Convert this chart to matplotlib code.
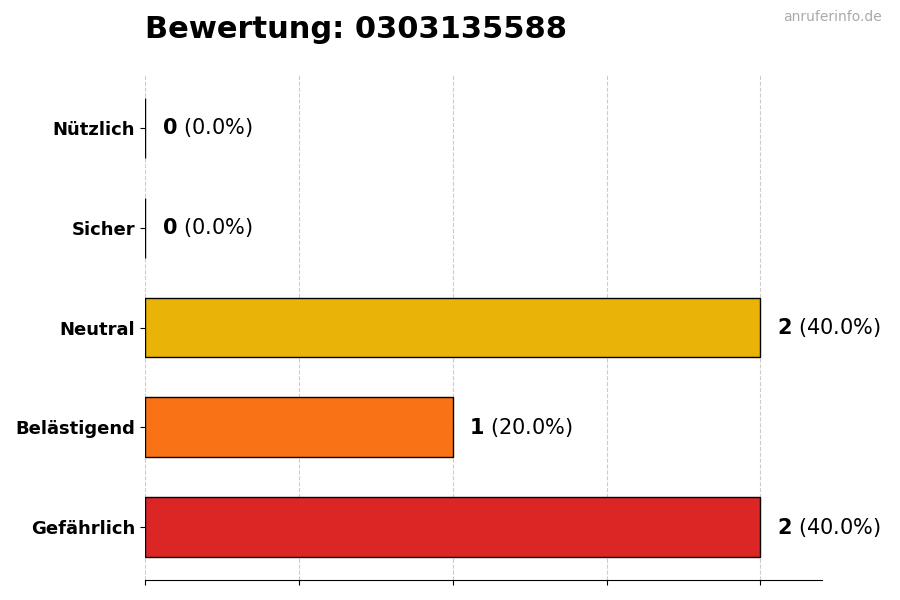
import matplotlib
matplotlib.use("Agg")
import matplotlib.pyplot as plt

categories = ["Gefährlich", "Belästigend", "Neutral", "Sicher", "Nützlich"]
counts = [2, 1, 2, 0, 0]
colors = ["#dc2626", "#f97316", "#eab308", "#22c55e", "#16a34a"]
total = sum(counts)

fig = plt.figure(figsize=(9, 6), dpi=100)
ax = fig.add_axes([145/900, 20/600, 677/900, 505/600])

ax.barh(range(len(categories)), counts, height=0.6, color=colors,
        edgecolor="black", linewidth=1, zorder=3)

for i, c in enumerate(counts):
    pct = c / total * 100
    ax.annotate(f"$\\bf{{{c}}}$ ({pct:.1f}%)", (c, i), xytext=(12, 0),
                textcoords="offset points", va="center", fontsize=15)

ax.set_yticks(range(len(categories)))
ax.set_yticklabels(categories, fontsize=13, fontweight="bold")
ax.set_xlim(0, 2.2)
ax.set_ylim(-0.53, 4.53)
ax.set_xticks([0, 0.5, 1, 1.5, 2])
ax.set_xticklabels([])
ax.grid(axis="x", linestyle="--", color="#cccccc", linewidth=0.8, zorder=0)
for s in ["top", "right", "left"]:
    ax.spines[s].set_visible(False)

fig.text(145/900, 1 - 30/600, "Bewertung: 0303135588", fontsize=22,
         fontweight="bold", va="center")
fig.text(882/900, 1 - 17/600, "anruferinfo.de", fontsize=10, color="#aaaaaa",
         ha="right", va="center")

fig.savefig("out.png", dpi=100)
